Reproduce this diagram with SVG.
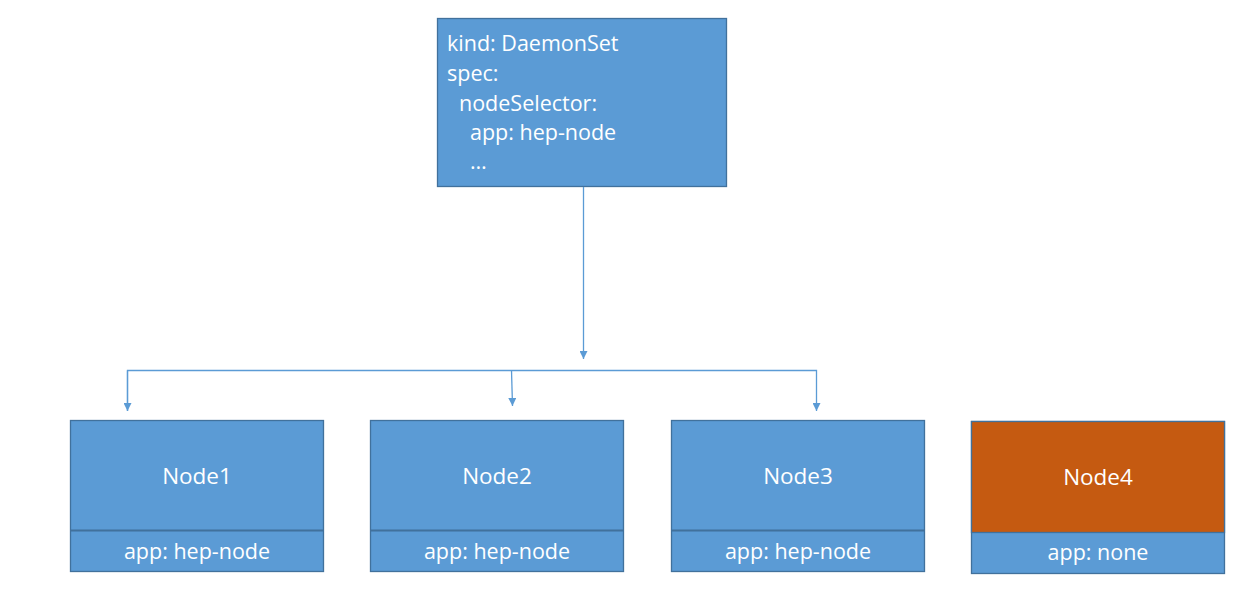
<svg xmlns="http://www.w3.org/2000/svg" width="1260" height="599" viewBox="0 0 1260 599">
<defs>
<style>
.box{fill:#5B9BD5;stroke:#41719C;stroke-width:1.3}
.orange{fill:#C55A11;stroke:#41719C;stroke-width:1.3}
.t{font-family:"Open Sans","Liberation Sans",sans-serif;fill:#fff;font-size:21.5px}
.n{font-size:22.5px}
.c{text-anchor:middle}
.conn{stroke:#5B9BD5;stroke-width:1.3;fill:none}
</style>
<marker id="ah" viewBox="0 0 10 10" refX="10" refY="5" markerWidth="8" markerHeight="8" markerUnits="userSpaceOnUse" orient="auto">
<path d="M0,0 L10,5 L0,10 Z" fill="#5B9BD5"/>
</marker>
</defs>
<rect width="1260" height="599" fill="#fff"/>
<g id="daemonset">
<rect class="box" x="437.5" y="18.5" width="289" height="168"/>
<text class="t" x="447" y="51">kind: DaemonSet</text>
<text class="t" x="447" y="81">spec:</text>
<text class="t" x="459" y="111">nodeSelector:</text>
<text class="t" x="470" y="140">app: hep-node</text>
<text class="t" x="470" y="169">…</text>
</g>
<g id="connectors">
<line class="conn" x1="583.5" y1="187" x2="583.5" y2="359" marker-end="url(#ah)"/>
<polyline class="conn" points="127.5,411 127.5,370.5 816.5,370.5 816.5,411" marker-end="url(#ah)"/>
<path class="conn" d="M127.5,370.5 V411" marker-end="url(#ah)"/>
<line class="conn" x1="511.5" y1="370.5" x2="512.5" y2="406" marker-end="url(#ah)"/>
</g>
<g id="node1">
<rect class="box" x="70.5" y="420.5" width="253" height="151"/>
<line x1="70.5" y1="530.5" x2="323.5" y2="530.5" stroke="#41719C" stroke-width="1.8"/>
<text class="t c n" x="197" y="484">Node1</text>
<text class="t c" x="197" y="559">app: hep-node</text>
</g>
<g id="node2">
<rect class="box" x="370.5" y="420.5" width="253" height="151"/>
<line x1="370.5" y1="530.5" x2="623.5" y2="530.5" stroke="#41719C" stroke-width="1.8"/>
<text class="t c n" x="497" y="484">Node2</text>
<text class="t c" x="497" y="559">app: hep-node</text>
</g>
<g id="node3">
<rect class="box" x="671.5" y="420.5" width="253" height="151"/>
<line x1="671.5" y1="530.5" x2="924.5" y2="530.5" stroke="#41719C" stroke-width="1.8"/>
<text class="t c n" x="798" y="484">Node3</text>
<text class="t c" x="798" y="559">app: hep-node</text>
</g>
<g id="node4">
<rect class="box" x="971.5" y="421.5" width="253" height="152"/>
<rect class="orange" x="971.5" y="421.5" width="253" height="111"/>
<text class="t c n" x="1098" y="485">Node4</text>
<text class="t c" x="1098" y="560">app: none</text>
</g>
</svg>
